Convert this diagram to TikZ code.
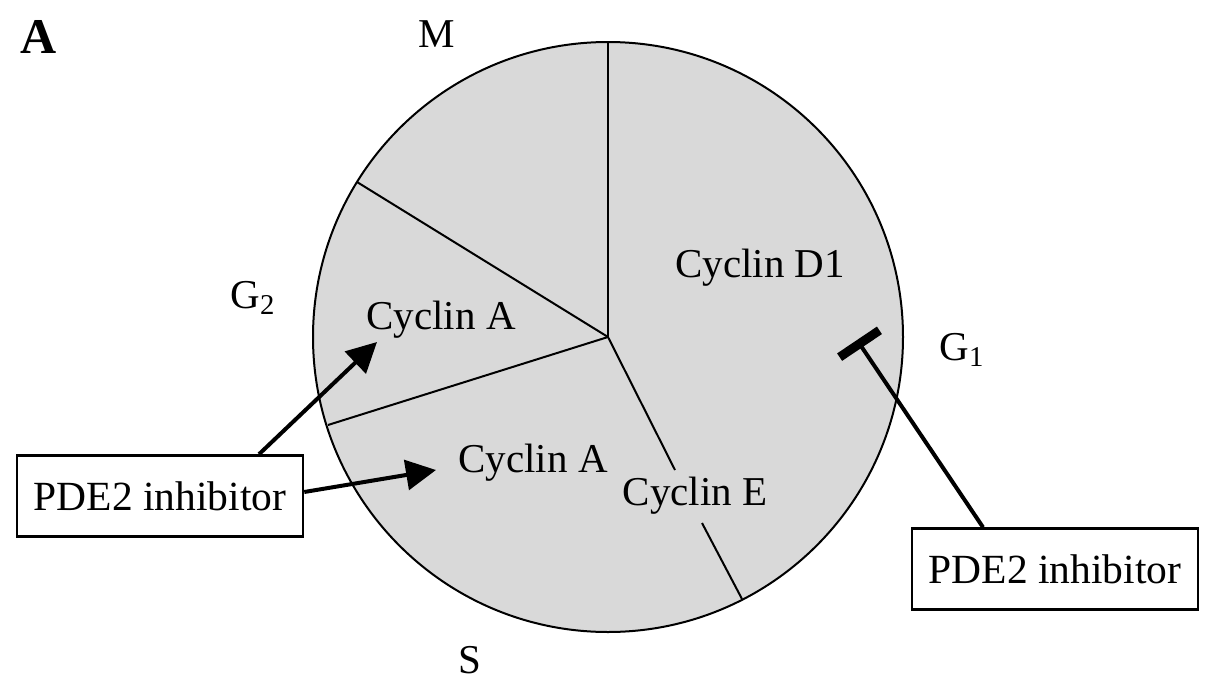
\documentclass[tikz,border=0pt]{standalone}
\usepackage{fontspec}
\setmainfont{Liberation Serif}
\usetikzlibrary{arrows.meta}
\definecolor{cellgray}{HTML}{D9D9D9}
\begin{document}
\begin{tikzpicture}[x=0.5pt,y=-0.5pt,
  lbl/.style={font=\fontsize{20.5pt}{24pt}\selectfont, inner sep=0pt},
  phase/.style={font=\fontsize{20.5pt}{24pt}\selectfont, inner sep=0pt},
  inhbox/.style={draw, line width=1.25pt, fill=white, minimum width=143pt, minimum height=40.5pt, inner sep=0pt, font=\fontsize{20.75pt}{24pt}\selectfont},
  divider/.style={line width=1pt},
  actarrow/.style={line width=2pt, -{Triangle[length=15pt,width=15pt]}},
  inharrow/.style={line width=2pt, -{Bar[width=24pt,line width=4.5pt]}}]
\useasboundingbox (0,0) rectangle (1217,691);
% circle
\coordinate (O) at (608,337);
\draw[line width=1pt, fill=cellgray] (O) circle [radius=147.5pt];
\coordinate (pM) at (608,42);
\coordinate (pG2) at (357,182);
\coordinate (pS) at (328,425);
\coordinate (pE1) at (675,470);
\coordinate (pE2) at (702,523);
\coordinate (pG1) at (742,599);
\draw[divider] (O) -- (pM);
\draw[divider] (O) -- (pG2);
\draw[divider] (O) -- (pS);
\draw[divider] (O) -- (pE1);
\draw[divider] (pE2) -- (pG1);
% labels
\node[font=\bfseries\fontsize{25pt}{28pt}\selectfont, inner sep=0pt] (lA) at (39,37) {A};
\node[phase] (lM) at (437,34) {M};
\node[phase] (lG2) at (253,298) {G\textsubscript{2}};
\node[phase] (lG1) at (962,350) {G\textsubscript{1}};
\node[phase] (lS) at (470,660) {S};
\node[lbl] (ca1) at (441,320) {Cyclin A};
\node[lbl] (ca2) at (533,463) {Cyclin A};
\node[lbl] (ce) at (695,496) {Cyclin E};
\node[lbl] (cd) at (760,268) {Cyclin D1};
% inhibitor boxes
\node[inhbox] (lbox) at (160,496) {PDE2 inhibitor};
\node[inhbox] (rbox) at (1055,569) {PDE2 inhibitor};
\coordinate (t1) at (377,342);
\coordinate (t2) at (436,470);
\coordinate (t3) at (857,340);
\draw[actarrow] ([xshift=49.5pt]lbox.north) -- (t1);
\draw[actarrow] ([yshift=2pt]lbox.east) -- (t2);
\draw[inharrow] ([xshift=-36pt]rbox.north) -- (t3);
\end{tikzpicture}
\end{document}
